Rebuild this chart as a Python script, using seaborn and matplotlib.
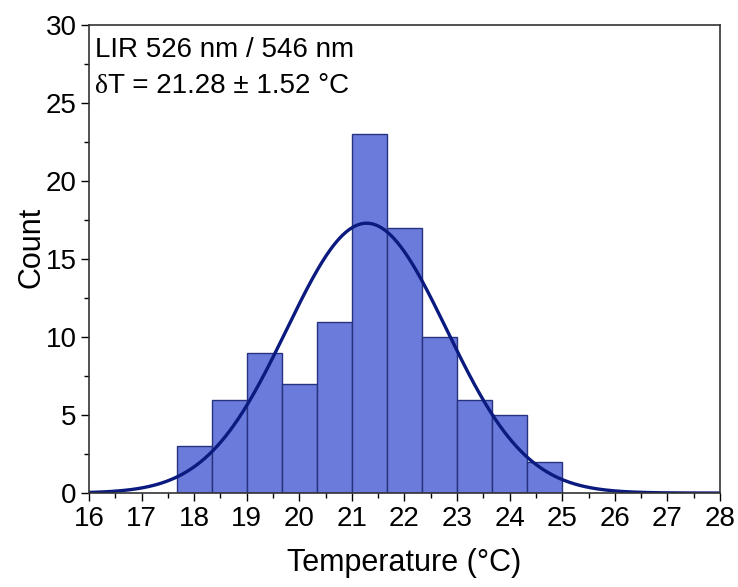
import numpy as np
import pandas as pd
import matplotlib
matplotlib.use("Agg")
import matplotlib.pyplot as plt
import seaborn as sns
from matplotlib.ticker import MultipleLocator

# Histogram of temperature readings (bin width 2/3 °C)
bin_edges = [17.667, 18.333, 19.0, 19.667, 20.333, 21.0, 21.667,
             22.333, 23.0, 23.667, 24.333, 25.0]
counts = [3, 6, 9, 7, 11, 23, 17, 10, 6, 5, 2]

# Gaussian fit parameters
fit_mean = 21.28
fit_sigma = 1.52

sns.set_theme(style="ticks")
plt.rcParams["font.family"] = ["Liberation Sans", "DejaVu Sans"]
plt.rcParams["text.color"] = "black"
plt.rcParams["axes.labelcolor"] = "black"
plt.rcParams["xtick.color"] = "black"
plt.rcParams["ytick.color"] = "black"

fig = plt.figure(figsize=(7.38, 5.87), dpi=100)
ax = fig.add_axes([0.1206, 0.160, 0.855, 0.797])

edges = np.array(bin_edges)
centers = (edges[:-1] + edges[1:]) / 2
df = pd.DataFrame({"T": centers, "n": counts})
sns.histplot(data=df, x="T", weights="n", bins=list(bin_edges), ax=ax,
             color="#6a7bdc", alpha=1.0, edgecolor="#28337f", linewidth=1.0)

# Normal curve scaled to the histogram area
width = edges[1] - edges[0]
total = sum(counts)
xs = np.linspace(16, 28, 600)
ys = total * width / (fit_sigma * np.sqrt(2 * np.pi)) * np.exp(-0.5 * ((xs - fit_mean) / fit_sigma) ** 2)
sns.lineplot(x=xs, y=ys, ax=ax, color="#0b1a7e", linewidth=2.4)

ax.set_xlim(16, 28)
ax.set_ylim(0, 30)
ax.xaxis.set_major_locator(MultipleLocator(1))
ax.xaxis.set_minor_locator(MultipleLocator(0.5))
ax.yaxis.set_major_locator(MultipleLocator(5))
ax.yaxis.set_minor_locator(MultipleLocator(2.5))
ax.tick_params(axis="both", which="major", direction="out", length=6, width=1.0,
               labelsize=20, pad=3)
ax.tick_params(axis="both", which="minor", direction="out", length=3.5, width=1.0)
for s in ax.spines.values():
    s.set_visible(True)
    s.set_linewidth(1.2)
    s.set_color("#333333")

ax.set_xlabel("Temperature (°C)", fontsize=22, labelpad=12)
ax.set_ylabel("Count", fontsize=22)
ax.yaxis.set_label_coords(-0.068, 0.525)

# Annotation: δ set in a serif face, the rest in sans
fig.canvas.draw()
x0, y1, y2 = 0.0095, 0.932, 0.855
ax.text(x0, y1, "LIR 526 nm / 546 nm", transform=ax.transAxes,
        fontsize=20, va="baseline", ha="left")
d = ax.text(x0, y2, "δ", transform=ax.transAxes, fontsize=20,
            family="Liberation Serif", va="baseline", ha="left")
fig.canvas.draw()
bb = d.get_window_extent()
x_rest = ax.transAxes.inverted().transform((bb.x1, bb.y0))[0]
ax.text(x_rest, y2, "T = 21.28 ± 1.52 °C", transform=ax.transAxes,
        fontsize=20, va="baseline", ha="left")

fig.savefig("out.png", dpi=100)
